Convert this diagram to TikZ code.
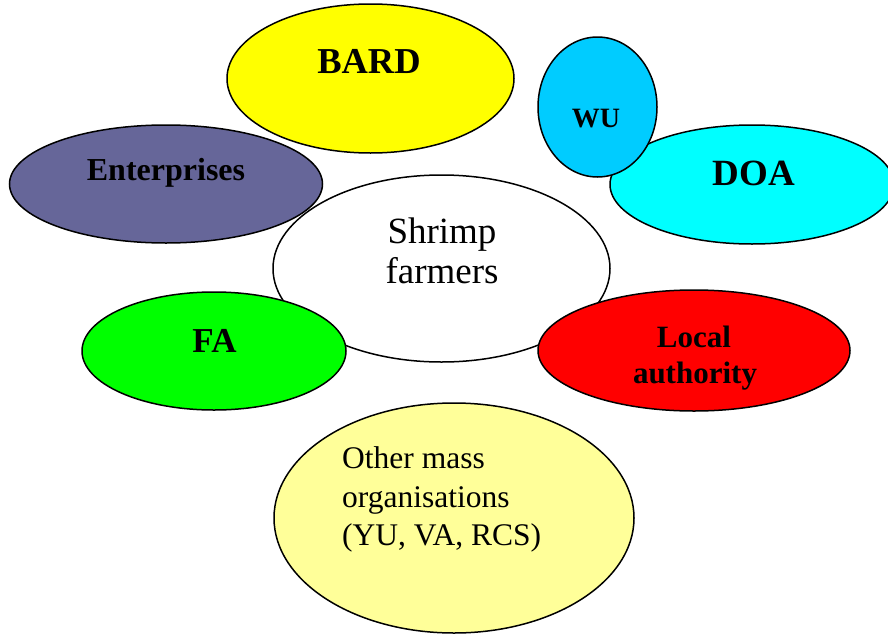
\documentclass[tikz,border=0pt]{standalone}
\usepackage{fontspec}
\setmainfont{Liberation Serif}
\usetikzlibrary{shapes.geometric}
\definecolor{bardc}{HTML}{FFFF00}
\definecolor{wuc}{HTML}{00CCFF}
\definecolor{doac}{HTML}{00FFFF}
\definecolor{entc}{HTML}{666699}
\definecolor{fac}{HTML}{00FF00}
\definecolor{locc}{HTML}{FF0000}
\definecolor{othc}{HTML}{FFFF99}
\tikzset{
  oval/.style={ellipse, draw=black, line width=1.5pt, inner sep=0pt},
  lbl/.style={inner sep=0pt, anchor=base},
  lbll/.style={inner sep=0pt, anchor=base west},
}
\begin{document}
\begin{tikzpicture}[x=1pt,y=-1pt]
\useasboundingbox (0,0) rectangle (888,637);
% ellipses
\node[oval, fill=white, minimum width=337pt, minimum height=187pt] (shrimp) at (441.5,268.5) {};
\node[oval, fill=bardc, minimum width=287pt, minimum height=149pt] (bard) at (370.5,78.5) {};
\node[oval, fill=entc, minimum width=313pt, minimum height=118pt] (ent) at (166,184) {};
\node[oval, fill=fac, minimum width=264pt, minimum height=118pt] (fa) at (214,351) {};
\node[oval, fill=locc, minimum width=312pt, minimum height=121pt] (loc) at (694,350.5) {};
\node[oval, fill=othc, minimum width=360pt, minimum height=230pt] (oth) at (454,518) {};
\node[oval, fill=doac, minimum width=284pt, minimum height=119pt] (doa) at (752,184.5) {};
\node[oval, fill=wuc, minimum width=119pt, minimum height=140pt] (wu) at (597.5,107) {};
% texts
\node[lbl, font=\fontsize{36.5}{40}\selectfont\bfseries] (tbard) at (369,73) {BARD};
\node[lbl, font=\fontsize{28}{32}\selectfont\bfseries] (twu) at (596,127) {WU};
\node[lbl, font=\fontsize{37}{40}\selectfont\bfseries] (tdoa) at (754,185) {DOA};
\node[lbl, font=\fontsize{32}{36}\selectfont\bfseries] (tent) at (166,180) {Enterprises};
\node[lbl, font=\fontsize{37}{40}\selectfont] (ts1) at (442,243) {Shrimp};
\node[lbl, font=\fontsize{37}{40}\selectfont] (ts2) at (442,283) {farmers};
\node[lbl, font=\fontsize{35}{40}\selectfont\bfseries] (tfa) at (214.5,352) {FA};
\node[lbl, font=\fontsize{31}{36}\selectfont\bfseries] (tl1) at (694,347) {Local};
\node[lbl, font=\fontsize{31}{36}\selectfont\bfseries] (tl2) at (695,383) {authority};
\node[lbll, font=\fontsize{31.5}{38}\selectfont] (to1) at (342,468) {Other mass};
\node[lbll, font=\fontsize{31.5}{38}\selectfont] (to2) at (342,507) {organisations};
\node[lbll, font=\fontsize{31.5}{38}\selectfont] (to3) at (342,545) {(YU, VA, RCS)};
\end{tikzpicture}
\end{document}
